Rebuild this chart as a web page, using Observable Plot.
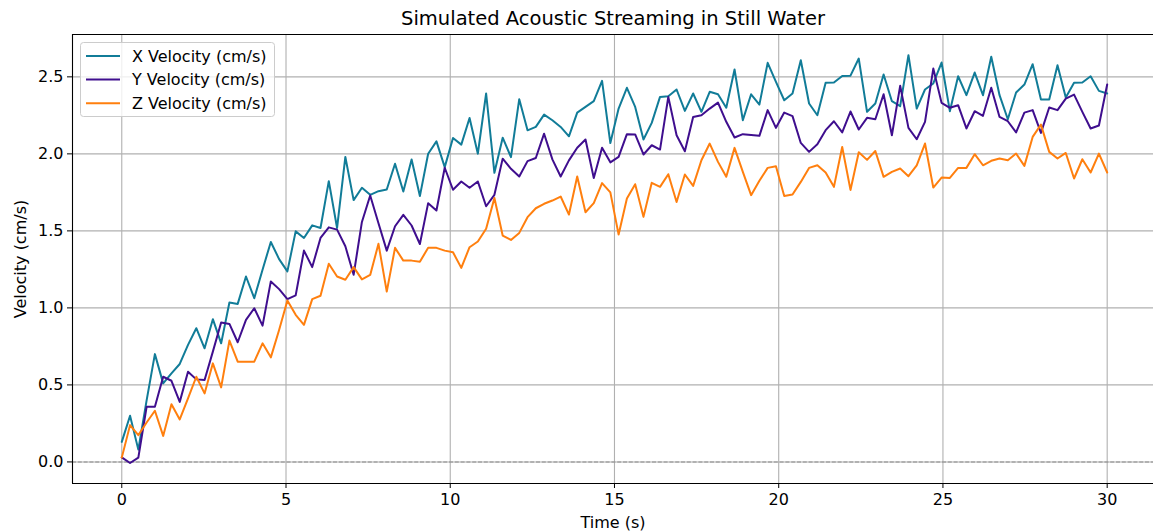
<!DOCTYPE html>
<html><head><meta charset="utf-8">
<script src="https://cdn.jsdelivr.net/npm/d3@7"></script>
<script src="https://cdn.jsdelivr.net/npm/@observablehq/plot@0.6"></script>
<style>
body{margin:0;background:#fff;}
#chart svg{display:block;}
</style></head><body><div id="chart"></div>
<script>
const nSamples = 120, tMax = 30;
const time = d3.range(nSamples).map(i => i * tMax / (nSamples - 1));

const xVel = [0.13,0.30,0.08,0.40,0.70,0.51,0.575,0.636,0.76,0.868,
0.738,0.927,0.77,1.035,1.026,1.204,1.063,1.248,1.428,1.317,
1.237,1.497,1.454,1.536,1.519,1.823,1.519,1.98,1.70,1.78,
1.734,1.758,1.769,1.936,1.756,1.964,1.726,2.001,2.081,1.914,
2.103,2.06,2.233,2.001,2.392,1.877,2.105,1.979,2.355,2.153,
2.175,2.255,2.218,2.175,2.114,2.268,2.305,2.342,2.474,2.07,
2.294,2.429,2.305,2.093,2.201,2.37,2.374,2.418,2.279,2.392,
2.273,2.403,2.387,2.30,2.548,2.219,2.387,2.32,2.591,2.468,
2.348,2.392,2.608,2.327,2.251,2.461,2.463,2.506,2.508,2.619,
2.273,2.327,2.515,2.342,2.31,2.641,2.294,2.418,2.457,2.593,
2.277,2.504,2.381,2.528,2.381,2.63,2.381,2.225,2.398,2.45,
2.582,2.353,2.353,2.576,2.366,2.461,2.463,2.504,2.409,2.392];

const yVel = [0.03,-0.007,0.028,0.358,0.358,0.553,0.527,0.39,0.586,0.536,
0.532,0.716,0.905,0.896,0.777,0.922,0.998,0.885,1.172,1.122,
1.057,1.081,1.372,1.265,1.454,1.523,1.508,1.40,1.215,1.558,
1.73,1.55,1.372,1.53,1.604,1.535,1.415,1.68,1.632,1.91,
1.767,1.821,1.78,1.821,1.66,1.734,1.969,1.903,1.853,1.953,
1.973,2.131,1.964,1.853,1.958,2.04,2.093,1.843,2.04,1.945,
1.98,2.128,2.126,1.996,2.056,2.028,2.37,2.121,2.017,2.24,
2.251,2.294,2.333,2.208,2.106,2.128,2.123,2.117,2.284,2.169,
2.268,2.245,2.071,2.013,2.063,2.154,2.212,2.139,2.275,2.158,
2.234,2.225,2.387,2.121,2.442,2.169,2.095,2.208,2.554,2.331,
2.299,2.316,2.165,2.277,2.247,2.429,2.24,2.212,2.139,2.268,
2.284,2.136,2.301,2.284,2.359,2.385,2.273,2.165,2.184,2.45];

const zVel = [0.028,0.239,0.174,0.256,0.332,0.169,0.375,0.276,0.412,0.553,
0.445,0.64,0.484,0.788,0.651,0.651,0.651,0.77,0.679,0.857,
1.048,0.955,0.89,1.057,1.079,1.287,1.204,1.183,1.265,1.185,
1.214,1.416,1.106,1.39,1.307,1.307,1.30,1.39,1.39,1.372,
1.361,1.26,1.394,1.431,1.514,1.713,1.47,1.441,1.487,1.589,
1.647,1.676,1.697,1.723,1.606,1.853,1.621,1.68,1.81,1.75,
1.476,1.71,1.803,1.591,1.812,1.786,1.868,1.688,1.866,1.792,
1.959,2.067,1.948,1.851,2.039,1.883,1.732,1.825,1.909,1.92,
1.727,1.736,1.818,1.909,1.926,1.879,1.786,2.045,1.766,2.011,
1.961,2.019,1.851,1.883,1.905,1.855,1.926,2.067,1.781,1.846,
1.844,1.909,1.909,1.998,1.926,1.955,1.97,1.959,2.002,1.922,
2.11,2.19,2.013,1.97,2.006,1.84,1.965,1.879,2.002,1.879];

const seriesNames = ["X Velocity (cm/s)", "Y Velocity (cm/s)", "Z Velocity (cm/s)"];
const seriesColors = ["#117c98", "#3f0e8e", "#ff7f0e"];
const xTicks = [0, 5, 10, 15, 20, 25, 30];
const yTicks = [0, 0.5, 1.0, 1.5, 2.0, 2.5];
const titleText = "Simulated Acoustic Streaming in Still Water";
const xLabel = "Time (s)";
const yLabel = "Velocity (cm/s)";

const rows = [];
[xVel, yVel, zVel].forEach((arr, k) => arr.forEach((v, i) => rows.push({t: time[i], v, s: seriesNames[k]})));

const xDom = [-1.5, 31.41], yDom = [-0.14, 2.775];
const font = "DejaVu Sans, sans-serif";
const baseSize = 16;

const chart = Plot.plot({
  width: 1153, height: 531,
  marginLeft: 72, marginRight: 0, marginTop: 34, marginBottom: 48,
  style: {fontFamily: font, fontSize: baseSize + "px", background: "white", color: "black", overflow: "visible"},
  x: {domain: xDom},
  y: {domain: yDom},
  color: {domain: seriesNames, range: seriesColors},
  marks: [
    Plot.gridX(xTicks, {stroke: "#b0b0b0", strokeOpacity: 1, strokeWidth: 1.1}),
    Plot.gridY(yTicks, {stroke: "#b0b0b0", strokeOpacity: 1, strokeWidth: 1.1}),
    Plot.ruleY([0], {stroke: "#8c8c8c", strokeDasharray: "4,1.8", strokeWidth: 1.1}),
    Plot.line(rows, {x: "t", y: "v", z: "s", stroke: "s", strokeWidth: 2}),
    Plot.ruleX([xDom[0]], {stroke: "black", strokeWidth: 1.1}),
    Plot.ruleY([yDom[0]], {stroke: "black", strokeWidth: 1.1}),
    Plot.ruleY([yDom[1]], {stroke: "black", strokeWidth: 1.1}),
    Plot.axisX(xTicks, {tickSize: 5, tickPadding: 5, tickFormat: d3.format("d"), label: xLabel, labelAnchor: "center", labelArrow: "none", labelOffset: 44}),
    Plot.axisY(yTicks, {tickSize: 5, tickPadding: 4, tickFormat: d3.format(".1f"), label: yLabel, labelAnchor: "center", labelArrow: "none", labelOffset: 58}),
    Plot.text([titleText], {frameAnchor: "top", lineAnchor: "middle", text: d => d, dy: -16, fontSize: 19.5})
  ]
});
document.getElementById("chart").appendChild(chart);

// legend inside the axes (upper left)
const svg = d3.select(chart);
const lg = svg.append("g").attr("font-family", font).attr("font-size", baseSize).attr("text-anchor", "start");
lg.append("rect").attr("x", 80.5).attr("y", 42.5).attr("width", 194).attr("height", 74)
  .attr("rx", 3).attr("fill", "white").attr("fill-opacity", 0.8).attr("stroke", "#cccccc");
seriesNames.forEach((n, k) => {
  const y = 56 + k * 23.6;
  lg.append("line").attr("x1", 86).attr("x2", 120).attr("y1", y).attr("y2", y)
    .attr("stroke", seriesColors[k]).attr("stroke-width", 2);
  lg.append("text").attr("x", 132).attr("y", y).attr("dy", "0.35em").attr("fill", "black").text(n);
});
</script></body></html>
